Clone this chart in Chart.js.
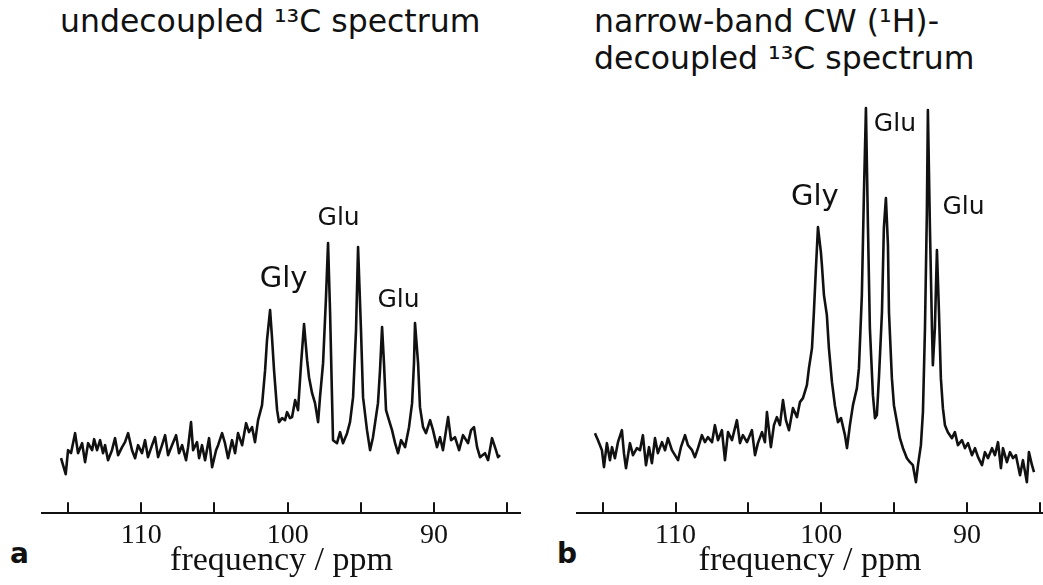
<!DOCTYPE html>
<html>
<head>
<meta charset="utf-8">
<script src="https://cdn.jsdelivr.net/npm/chart.js@4/dist/chart.umd.min.js"></script>
<style>
  body { margin: 0; background: #fff; width: 1043px; height: 585px; position: relative; overflow: hidden; font-family: "DejaVu Sans", sans-serif; color: #111; }
  canvas { position: absolute; top: 0; }
  #graficoA { left: 0; }
  #graficoB { left: 521px; }
  .titulo { position: absolute; font-size: 31.5px; line-height: 37px; white-space: nowrap; }
  .letra { position: absolute; font-size: 28px; font-weight: bold; line-height: 30px; }
</style>
</head>
<body>
<div class="titulo" style="left:60px; top:3px;">undecoupled ¹³C spectrum</div>
<div class="titulo" style="left:594px; top:3px;">narrow-band CW (¹H)-<br>decoupled ¹³C spectrum</div>
<div class="letra" style="left:10px; top:539px;">a</div>
<div class="letra" style="left:557px; top:539px;">b</div>
<canvas id="graficoA" width="521" height="585"></canvas>
<!-- un poco más ancho: Chart.js deja ~5px a la derecha por el tick 85 -->
<canvas id="graficoB" width="527" height="585"></canvas>
<script>
// ticks del eje (ppm) y los que llevan número
const marcasPpm = [85, 90, 95, 100, 105, 110, 115];
const etiquetasEje = [90, 100, 110];

// (a) espectro sin desacoplar
const ppmA = [115.48, 115.16, 115.00, 114.80, 114.52, 114.32, 114.04, 113.84, 113.63, 113.36, 113.22, 113.02, 112.81, 112.61, 112.47, 112.27, 112.00, 111.79, 111.58, 111.31, 111.11, 110.90, 110.63, 110.42, 110.22, 109.95, 109.74, 109.54, 109.26, 109.06, 108.85, 108.58, 108.37, 108.17, 107.90, 107.62, 107.42, 107.21, 106.94, 106.80, 106.60, 106.46, 106.19, 106.05, 105.85, 105.64, 105.37, 105.16, 104.89, 104.75, 104.48, 104.28, 104.07, 103.80, 103.59, 103.39, 103.11, 102.84, 102.64, 102.43, 102.23, 102.02, 101.75, 101.54, 101.41, 101.20, 101.07, 100.93, 100.72, 100.59, 100.38, 100.18, 100.04, 99.84, 99.70, 99.49, 99.29, 99.08, 98.88, 98.67, 98.54, 98.33, 98.13, 97.92, 97.79, 97.58, 97.38, 97.24, 97.10, 96.97, 96.90, 96.63, 96.42, 96.22, 95.94, 95.74, 95.53, 95.33, 95.19, 94.99, 94.85, 94.58, 94.37, 94.17, 93.83, 93.69, 93.55, 93.42, 93.28, 93.14, 92.87, 92.66, 92.46, 92.25, 91.98, 91.71, 91.50, 91.37, 91.30, 91.09, 90.96, 90.75, 90.55, 90.27, 90.07, 89.80, 89.59, 89.39, 89.04, 88.84, 88.57, 88.29, 88.02, 87.68, 87.47, 87.27, 87.06, 86.86, 86.52, 86.31, 86.04, 85.77, 85.63, 85.49];
const intA = [55, 39, 63, 60, 80, 60, 70, 51, 70, 63, 74, 63, 73, 60, 68, 53, 63, 75, 58, 66, 71, 80, 63, 55, 68, 60, 73, 56, 68, 76, 56, 68, 78, 58, 68, 78, 60, 68, 53, 66, 91, 63, 71, 55, 68, 53, 75, 46, 63, 68, 80, 70, 55, 73, 60, 80, 68, 90, 81, 86, 71, 93, 108, 143, 173, 203, 176, 143, 103, 91, 95, 93, 101, 95, 96, 113, 103, 150, 189, 153, 136, 120, 110, 91, 116, 150, 216, 270, 200, 116, 73, 70, 81, 70, 80, 91, 116, 183, 266, 183, 116, 83, 63, 76, 110, 143, 186, 150, 103, 96, 83, 70, 60, 73, 66, 86, 110, 150, 190, 150, 106, 86, 80, 93, 83, 66, 76, 63, 96, 73, 76, 63, 78, 70, 83, 86, 66, 56, 60, 53, 75, 63, 56, 58];

// (b) espectro desacoplado
const ppmB = [115.53, 115.32, 115.05, 114.91, 114.71, 114.50, 114.36, 114.16, 113.95, 113.68, 113.54, 113.40, 113.13, 112.92, 112.65, 112.44, 112.24, 112.03, 111.82, 111.62, 111.41, 111.21, 110.93, 110.72, 110.52, 110.25, 110.04, 109.83, 109.63, 109.35, 109.15, 108.87, 108.67, 108.46, 108.19, 107.98, 107.78, 107.50, 107.30, 107.09, 106.82, 106.61, 106.40, 106.13, 105.79, 105.58, 105.38, 105.10, 104.76, 104.55, 104.35, 104.07, 103.87, 103.73, 103.46, 103.25, 103.05, 102.84, 102.63, 102.43, 102.22, 101.95, 101.67, 101.47, 101.26, 100.99, 100.85, 100.64, 100.51, 100.37, 100.23, 100.03, 99.96, 99.82, 99.62, 99.48, 99.27, 99.07, 98.86, 98.65, 98.38, 98.24, 98.04, 97.83, 97.56, 97.42, 97.22, 97.08, 96.94, 96.80, 96.67, 96.46, 96.32, 96.19, 96.05, 95.84, 95.71, 95.57, 95.43, 95.36, 95.16, 95.02, 94.81, 94.61, 94.40, 94.13, 93.92, 93.72, 93.51, 93.37, 93.17, 93.03, 92.89, 92.76, 92.69, 92.55, 92.41, 92.35, 92.21, 92.07, 91.93, 91.80, 91.66, 91.52, 91.32, 91.04, 90.84, 90.63, 90.35, 90.15, 89.94, 89.67, 89.46, 89.25, 88.98, 88.78, 88.57, 88.29, 88.09, 87.88, 87.68, 87.54, 87.27, 87.06, 86.85, 86.65, 86.37, 86.17, 85.90, 85.76, 85.55, 85.41];
const intB = [80, 73, 63, 46, 70, 53, 66, 55, 71, 83, 60, 45, 70, 58, 65, 63, 78, 48, 66, 50, 75, 60, 71, 63, 75, 63, 58, 53, 66, 78, 68, 63, 56, 65, 78, 71, 76, 71, 88, 73, 83, 53, 81, 73, 93, 70, 78, 71, 83, 58, 70, 81, 71, 101, 66, 88, 96, 88, 113, 93, 83, 105, 96, 111, 115, 128, 145, 165, 201, 245, 286, 261, 248, 218, 198, 165, 131, 108, 91, 95, 78, 65, 88, 108, 125, 145, 218, 318, 405, 285, 185, 118, 95, 98, 135, 201, 285, 315, 268, 201, 135, 108, 91, 75, 65, 55, 51, 48, 31, 48, 68, 101, 185, 301, 403, 285, 185, 148, 185, 263, 201, 135, 105, 88, 81, 75, 81, 68, 73, 65, 70, 58, 65, 56, 48, 61, 55, 65, 58, 71, 45, 65, 51, 61, 55, 58, 38, 53, 31, 61, 48, 41];

// etiquetas de los picos
const picosA = [
  { texto: "Gly", ppm: 100.28, y: 226, tam: 29 },
  { texto: "Glu", ppm: 96.52, y: 288, tam: 25 },
  { texto: "Glu", ppm: 92.43, y: 206, tam: 25 },
];
const picosB = [
  { texto: "Gly", ppm: 100.44, y: 308, tam: 29 },
  { texto: "Glu", ppm: 94.95, y: 382, tam: 25 },
  { texto: "Glu", ppm: 90.25, y: 299, tam: 25 },
];

// marcas hacia arriba sobre el eje y nombres de los picos
const marcasPlugin = {
  id: "marcas",
  afterDraw(chart, args, opts) {
    const { ctx, chartArea } = chart;
    const x = chart.scales.x;
    const y = chart.scales.y;
    ctx.save();
    ctx.strokeStyle = "#111";
    ctx.lineWidth = 2;
    for (const v of marcasPpm) {
      const px = Math.round(x.getPixelForValue(v));
      ctx.beginPath();
      ctx.moveTo(px, chartArea.bottom);
      ctx.lineTo(px, chartArea.bottom - 11);
      ctx.stroke();
    }
    ctx.fillStyle = "#111";
    ctx.textAlign = "center";
    ctx.textBaseline = "alphabetic";
    for (const p of opts.picos) {
      ctx.font = p.tam + 'px "DejaVu Sans"';
      ctx.fillText(p.texto, x.getPixelForValue(p.ppm), y.getPixelForValue(p.y));
    }
    ctx.restore();
  },
};

function crearPanel(canvasId, ppm, intensidad, xMin, xMax, izq, picos) {
  const ctx = document.getElementById(canvasId).getContext("2d");
  new Chart(ctx, {
    type: "line",
    data: {
      datasets: [
        {
          data: ppm.map((v, i) => ({ x: v, y: intensidad[i] })),
          borderColor: "#111",
          borderWidth: 2.6,
          borderJoinStyle: "round",
          pointRadius: 0,
          tension: 0,
          fill: false,
        },
      ],
    },
    options: {
      responsive: false,
      animation: false,
      layout: { padding: { left: izq, right: 0, top: 103, bottom: 0 } },
      plugins: {
        legend: { display: false },
        tooltip: { enabled: false },
        marcas: { picos: picos },
      },
      scales: {
        x: {
          type: "linear",
          reverse: true,
          min: xMin,
          max: xMax,
          grid: { display: true, drawOnChartArea: false, drawTicks: false },
          border: { display: true, color: "#111", width: 2 },
          ticks: {
            stepSize: 5,
            includeBounds: false,
            autoSkip: false,
            maxRotation: 0,
            padding: 8,
            color: "#111",
            font: { family: '"Liberation Serif"', size: 28, lineHeight: 1 },
            callback: (v) => (etiquetasEje.includes(v) ? String(v) : ""),
          },
          title: {
            display: true,
            text: "frequency / ppm",
            color: "#111",
            font: { family: '"Liberation Serif"', size: 34, lineHeight: 0.2 },
            padding: { top: 0, bottom: 21 },
          },
        },
        y: { display: false, min: 0, max: 410 },
      },
    },
    plugins: [marcasPlugin],
  });
}

crearPanel("graficoA", ppmA, intA, 84.06, 116.78, 42, picosA);
crearPanel("graficoB", ppmB, intB, 84.8, 116.76, 56, picosB);
</script>
</body>
</html>
